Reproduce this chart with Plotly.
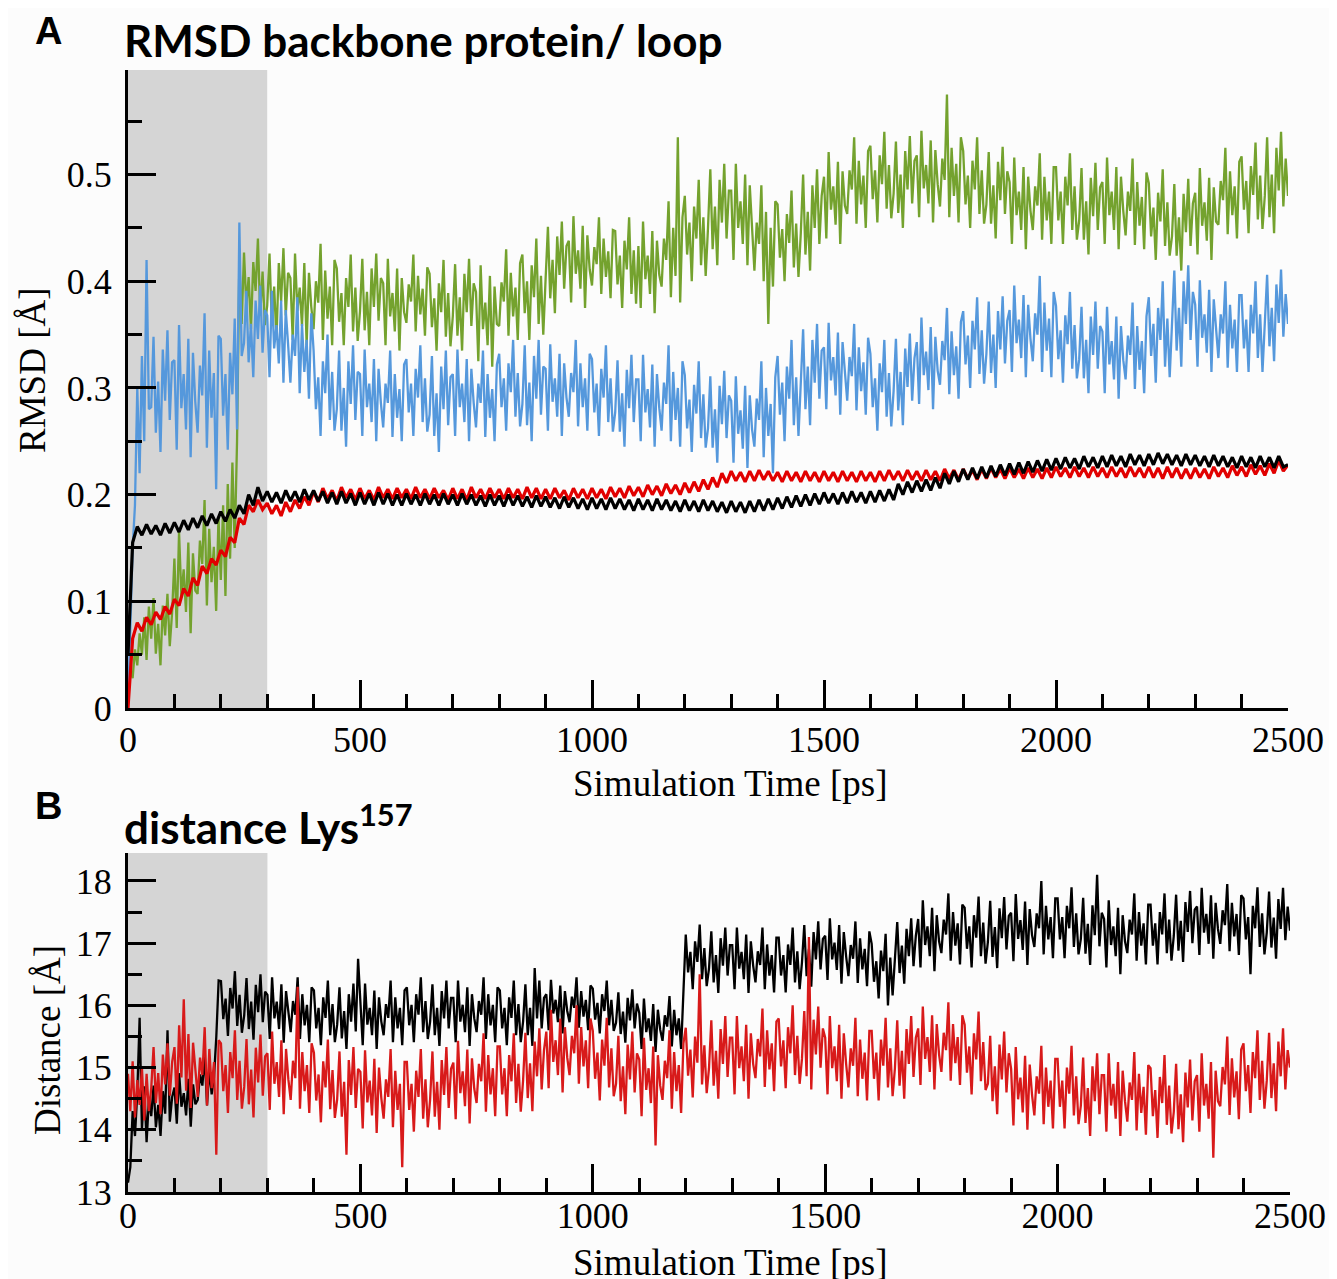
import plotly.graph_objects as go

# sample times (ps): noisy traces every 5 ps, smooth RMSD traces every 10 ps
time_5ps = list(range(0, 2501, 5))
time_10ps = list(range(0, 2501, 10))

# ---- panel A: RMSD backbone protein / loop [A] ----
rmsd_green = [
    0.020, 0.035, 0.028, 0.055, 0.040, 0.070, 0.050, 0.085, 0.045, 0.095,
    0.065, 0.103, 0.051, 0.079, 0.040, 0.096, 0.068, 0.107, 0.058, 0.089,
    0.140, 0.075, 0.165, 0.105, 0.130, 0.090, 0.155, 0.070, 0.145, 0.110,
    0.107, 0.157, 0.135, 0.195, 0.096, 0.168, 0.118, 0.151, 0.091, 0.179,
    0.120, 0.190, 0.105, 0.210, 0.140, 0.230, 0.150, 0.250, 0.420, 0.360,
    0.427, 0.377, 0.404, 0.355, 0.418, 0.391, 0.440, 0.368, 0.409, 0.359,
    0.377, 0.426, 0.359, 0.395, 0.345, 0.417, 0.381, 0.431, 0.368, 0.408,
    0.403, 0.345, 0.426, 0.372, 0.394, 0.358, 0.417, 0.340, 0.408, 0.376,
    0.355, 0.400, 0.380, 0.435, 0.345, 0.410, 0.365, 0.395, 0.340, 0.420,
    0.412, 0.362, 0.389, 0.340, 0.403, 0.376, 0.425, 0.353, 0.394, 0.344,
    0.372, 0.421, 0.354, 0.390, 0.340, 0.412, 0.376, 0.426, 0.363, 0.403,
    0.398, 0.340, 0.421, 0.367, 0.389, 0.353, 0.412, 0.335, 0.403, 0.371,
    0.361, 0.397, 0.381, 0.425, 0.353, 0.405, 0.369, 0.393, 0.349, 0.413,
    0.407, 0.357, 0.384, 0.335, 0.398, 0.371, 0.420, 0.348, 0.389, 0.339,
    0.367, 0.416, 0.349, 0.385, 0.335, 0.407, 0.371, 0.421, 0.358, 0.398,
    0.390, 0.325, 0.415, 0.355, 0.380, 0.340, 0.405, 0.320, 0.395, 0.360,
    0.358, 0.399, 0.381, 0.430, 0.349, 0.408, 0.367, 0.394, 0.345, 0.417,
    0.425, 0.370, 0.400, 0.345, 0.415, 0.385, 0.440, 0.360, 0.405, 0.350,
    0.402, 0.451, 0.384, 0.420, 0.370, 0.442, 0.406, 0.456, 0.393, 0.433,
    0.438, 0.380, 0.461, 0.407, 0.429, 0.393, 0.452, 0.375, 0.443, 0.411,
    0.396, 0.432, 0.416, 0.460, 0.388, 0.440, 0.404, 0.428, 0.384, 0.448,
    0.447, 0.397, 0.424, 0.375, 0.438, 0.411, 0.460, 0.388, 0.429, 0.379,
    0.433, 0.375, 0.456, 0.402, 0.424, 0.388, 0.447, 0.370, 0.438, 0.406,
    0.395, 0.440, 0.420, 0.475, 0.385, 0.450, 0.405, 0.535, 0.380, 0.460,
    0.480, 0.425, 0.455, 0.400, 0.470, 0.440, 0.495, 0.415, 0.460, 0.405,
    0.450, 0.505, 0.430, 0.470, 0.415, 0.495, 0.455, 0.510, 0.440, 0.485,
    0.485, 0.420, 0.510, 0.450, 0.475, 0.435, 0.500, 0.415, 0.490, 0.455,
    0.410, 0.455, 0.435, 0.490, 0.400, 0.465, 0.360, 0.450, 0.395, 0.475,
    0.472, 0.422, 0.449, 0.400, 0.463, 0.436, 0.485, 0.413, 0.454, 0.404,
    0.445, 0.500, 0.425, 0.465, 0.410, 0.490, 0.450, 0.505, 0.435, 0.480,
    0.498, 0.440, 0.521, 0.467, 0.489, 0.453, 0.512, 0.435, 0.503, 0.471,
    0.463, 0.504, 0.486, 0.535, 0.454, 0.513, 0.472, 0.499, 0.450, 0.522,
    0.527, 0.477, 0.504, 0.455, 0.518, 0.491, 0.540, 0.468, 0.509, 0.459,
    0.482, 0.531, 0.464, 0.500, 0.450, 0.522, 0.486, 0.536, 0.473, 0.513,
    0.518, 0.460, 0.541, 0.487, 0.509, 0.473, 0.532, 0.455, 0.523, 0.491,
    0.470, 0.515, 0.495, 0.575, 0.460, 0.525, 0.480, 0.510, 0.455, 0.535,
    0.522, 0.472, 0.499, 0.450, 0.513, 0.486, 0.535, 0.463, 0.504, 0.454,
    0.472, 0.521, 0.454, 0.490, 0.440, 0.512, 0.476, 0.526, 0.463, 0.503,
    0.493, 0.435, 0.516, 0.462, 0.484, 0.448, 0.507, 0.430, 0.498, 0.466,
    0.448, 0.489, 0.471, 0.520, 0.439, 0.498, 0.457, 0.484, 0.435, 0.507,
    0.507, 0.457, 0.484, 0.435, 0.498, 0.471, 0.520, 0.448, 0.489, 0.439,
    0.457, 0.506, 0.439, 0.475, 0.425, 0.497, 0.461, 0.511, 0.448, 0.488,
    0.493, 0.435, 0.516, 0.462, 0.484, 0.448, 0.507, 0.430, 0.498, 0.466,
    0.443, 0.484, 0.466, 0.515, 0.434, 0.493, 0.452, 0.479, 0.430, 0.502,
    0.492, 0.442, 0.469, 0.420, 0.483, 0.456, 0.505, 0.433, 0.474, 0.424,
    0.442, 0.491, 0.424, 0.460, 0.410, 0.482, 0.446, 0.496, 0.433, 0.473,
    0.483, 0.425, 0.506, 0.452, 0.474, 0.438, 0.497, 0.420, 0.488, 0.456,
    0.453, 0.494, 0.476, 0.525, 0.444, 0.503, 0.462, 0.489, 0.440, 0.512,
    0.517, 0.467, 0.494, 0.445, 0.508, 0.481, 0.530, 0.458, 0.499, 0.449,
    0.480, 0.535, 0.460, 0.500, 0.445, 0.525, 0.485, 0.540, 0.470, 0.515,
    0.480,
]

rmsd_blue = [
    0.000, 0.080, 0.150, 0.190, 0.300, 0.220, 0.330, 0.250, 0.420, 0.280,
    0.282, 0.348, 0.258, 0.306, 0.240, 0.336, 0.288, 0.354, 0.270, 0.324,
    0.326, 0.242, 0.359, 0.281, 0.313, 0.261, 0.346, 0.235, 0.333, 0.287,
    0.258, 0.321, 0.293, 0.370, 0.244, 0.335, 0.272, 0.314, 0.205, 0.349,
    0.346, 0.274, 0.313, 0.242, 0.333, 0.294, 0.365, 0.261, 0.455, 0.330,
    0.342, 0.391, 0.324, 0.360, 0.310, 0.382, 0.346, 0.396, 0.333, 0.373,
    0.368, 0.310, 0.391, 0.337, 0.359, 0.323, 0.382, 0.305, 0.373, 0.341,
    0.305, 0.350, 0.330, 0.385, 0.295, 0.360, 0.315, 0.345, 0.290, 0.370,
    0.335, 0.280, 0.310, 0.255, 0.325, 0.295, 0.350, 0.270, 0.315, 0.260,
    0.280, 0.335, 0.260, 0.300, 0.245, 0.325, 0.285, 0.340, 0.270, 0.315,
    0.313, 0.255, 0.336, 0.282, 0.304, 0.268, 0.327, 0.250, 0.318, 0.286,
    0.263, 0.304, 0.286, 0.335, 0.254, 0.313, 0.272, 0.299, 0.250, 0.322,
    0.327, 0.277, 0.304, 0.255, 0.318, 0.291, 0.340, 0.268, 0.309, 0.259,
    0.275, 0.330, 0.255, 0.295, 0.240, 0.320, 0.280, 0.335, 0.265, 0.310,
    0.313, 0.255, 0.336, 0.282, 0.304, 0.268, 0.327, 0.250, 0.318, 0.286,
    0.263, 0.304, 0.286, 0.335, 0.254, 0.313, 0.272, 0.299, 0.250, 0.322,
    0.332, 0.282, 0.309, 0.260, 0.323, 0.296, 0.345, 0.273, 0.314, 0.264,
    0.285, 0.340, 0.265, 0.305, 0.250, 0.330, 0.290, 0.345, 0.275, 0.320,
    0.318, 0.260, 0.341, 0.287, 0.309, 0.273, 0.332, 0.255, 0.323, 0.291,
    0.273, 0.314, 0.296, 0.345, 0.264, 0.323, 0.282, 0.309, 0.260, 0.332,
    0.327, 0.277, 0.304, 0.255, 0.318, 0.291, 0.340, 0.268, 0.309, 0.259,
    0.277, 0.326, 0.259, 0.295, 0.245, 0.317, 0.281, 0.331, 0.268, 0.308,
    0.308, 0.250, 0.331, 0.277, 0.299, 0.263, 0.322, 0.245, 0.313, 0.281,
    0.260, 0.305, 0.285, 0.340, 0.250, 0.315, 0.270, 0.300, 0.245, 0.325,
    0.312, 0.262, 0.289, 0.240, 0.303, 0.276, 0.325, 0.253, 0.294, 0.244,
    0.262, 0.311, 0.244, 0.280, 0.230, 0.302, 0.266, 0.316, 0.253, 0.293,
    0.288, 0.230, 0.311, 0.257, 0.279, 0.243, 0.302, 0.225, 0.293, 0.261,
    0.245, 0.290, 0.270, 0.325, 0.235, 0.300, 0.255, 0.285, 0.220, 0.310,
    0.330, 0.275, 0.305, 0.250, 0.320, 0.290, 0.345, 0.265, 0.310, 0.255,
    0.300, 0.355, 0.280, 0.320, 0.265, 0.345, 0.305, 0.360, 0.290, 0.335,
    0.338, 0.280, 0.361, 0.307, 0.329, 0.293, 0.352, 0.275, 0.343, 0.311,
    0.288, 0.329, 0.311, 0.360, 0.279, 0.338, 0.297, 0.324, 0.275, 0.347,
    0.332, 0.282, 0.309, 0.260, 0.323, 0.296, 0.345, 0.273, 0.314, 0.264,
    0.297, 0.346, 0.279, 0.315, 0.265, 0.337, 0.301, 0.351, 0.288, 0.328,
    0.343, 0.285, 0.366, 0.312, 0.334, 0.298, 0.357, 0.280, 0.348, 0.316,
    0.303, 0.344, 0.326, 0.375, 0.294, 0.353, 0.312, 0.339, 0.290, 0.362,
    0.372, 0.322, 0.349, 0.300, 0.363, 0.336, 0.385, 0.313, 0.354, 0.304,
    0.332, 0.381, 0.314, 0.350, 0.300, 0.372, 0.336, 0.386, 0.323, 0.363,
    0.373, 0.315, 0.396, 0.342, 0.364, 0.328, 0.387, 0.310, 0.378, 0.346,
    0.325, 0.370, 0.350, 0.405, 0.315, 0.380, 0.335, 0.365, 0.310, 0.390,
    0.377, 0.327, 0.354, 0.305, 0.368, 0.341, 0.390, 0.318, 0.359, 0.309,
    0.327, 0.376, 0.309, 0.345, 0.295, 0.367, 0.331, 0.381, 0.318, 0.358,
    0.353, 0.295, 0.376, 0.322, 0.344, 0.308, 0.367, 0.290, 0.358, 0.326,
    0.308, 0.349, 0.331, 0.380, 0.299, 0.358, 0.317, 0.344, 0.295, 0.367,
    0.385, 0.330, 0.360, 0.305, 0.375, 0.345, 0.400, 0.320, 0.365, 0.310,
    0.355, 0.410, 0.335, 0.375, 0.320, 0.400, 0.360, 0.415, 0.345, 0.390,
    0.378, 0.320, 0.401, 0.347, 0.369, 0.333, 0.392, 0.315, 0.383, 0.351,
    0.328, 0.369, 0.351, 0.400, 0.319, 0.378, 0.337, 0.364, 0.315, 0.387,
    0.387, 0.337, 0.364, 0.315, 0.378, 0.351, 0.400, 0.328, 0.369, 0.315,
    0.357, 0.406, 0.339, 0.375, 0.325, 0.397, 0.361, 0.411, 0.348, 0.388,
    0.360,
]

rmsd_red = [
    0.000, 0.065, 0.080, 0.072, 0.085, 0.078, 0.090, 0.083, 0.095, 0.088,
    0.102, 0.096, 0.112, 0.105, 0.122, 0.115, 0.133, 0.126, 0.140, 0.134,
    0.148, 0.142, 0.160, 0.155, 0.178, 0.172, 0.190, 0.184, 0.195, 0.186,
    0.192, 0.182, 0.190, 0.180, 0.193, 0.184, 0.195, 0.187, 0.198, 0.190,
    0.203, 0.193, 0.206, 0.196, 0.204, 0.194, 0.207, 0.197, 0.205, 0.195,
    0.206, 0.196, 0.204, 0.195, 0.207, 0.197, 0.205, 0.196, 0.206, 0.197,
    0.205, 0.196, 0.207, 0.197, 0.205, 0.196, 0.206, 0.197, 0.204, 0.195,
    0.206, 0.196, 0.205, 0.195, 0.207, 0.197, 0.205, 0.196, 0.206, 0.197,
    0.205, 0.196, 0.206, 0.197, 0.205, 0.196, 0.207, 0.197, 0.206, 0.196,
    0.205, 0.196, 0.206, 0.197, 0.204, 0.195, 0.206, 0.197, 0.205, 0.196,
    0.206, 0.197, 0.205, 0.196, 0.207, 0.198, 0.206, 0.197, 0.208, 0.199,
    0.207, 0.198, 0.209, 0.200, 0.208, 0.199, 0.210, 0.201, 0.209, 0.200,
    0.211, 0.202, 0.212, 0.203, 0.214, 0.205, 0.216, 0.207, 0.220, 0.211,
    0.222, 0.213, 0.221, 0.212, 0.222, 0.213, 0.223, 0.214, 0.222, 0.213,
    0.221, 0.212, 0.222, 0.213, 0.221, 0.212, 0.222, 0.213, 0.221, 0.212,
    0.222, 0.213, 0.221, 0.212, 0.222, 0.213, 0.221, 0.212, 0.222, 0.213,
    0.221, 0.212, 0.222, 0.213, 0.223, 0.214, 0.222, 0.213, 0.223, 0.214,
    0.222, 0.213, 0.223, 0.214, 0.222, 0.213, 0.224, 0.215, 0.223, 0.214,
    0.224, 0.215, 0.223, 0.214, 0.224, 0.215, 0.225, 0.216, 0.224, 0.215,
    0.225, 0.216, 0.224, 0.215, 0.225, 0.216, 0.224, 0.215, 0.225, 0.216,
    0.226, 0.217, 0.225, 0.216, 0.226, 0.217, 0.225, 0.216, 0.226, 0.217,
    0.225, 0.216, 0.226, 0.217, 0.225, 0.216, 0.226, 0.217, 0.225, 0.216,
    0.226, 0.216, 0.225, 0.215, 0.226, 0.216, 0.225, 0.215, 0.224, 0.215,
    0.225, 0.216, 0.224, 0.215, 0.226, 0.217, 0.225, 0.216, 0.227, 0.218,
    0.226, 0.217, 0.228, 0.219, 0.227, 0.218, 0.229, 0.220, 0.232, 0.222,
    0.228,
]

rmsd_black = [
    0.050, 0.155, 0.170, 0.162, 0.172, 0.163, 0.171, 0.162, 0.173, 0.164,
    0.174, 0.165, 0.176, 0.167, 0.178, 0.169, 0.180, 0.171, 0.182, 0.173,
    0.184, 0.175, 0.186, 0.178, 0.190, 0.182, 0.200, 0.190, 0.207, 0.194,
    0.203, 0.193, 0.202, 0.192, 0.204, 0.194, 0.203, 0.193, 0.205, 0.195,
    0.204, 0.194, 0.203, 0.192, 0.202, 0.191, 0.203, 0.192, 0.201, 0.190,
    0.202, 0.191, 0.201, 0.190, 0.202, 0.191, 0.201, 0.190, 0.200, 0.190,
    0.201, 0.191, 0.200, 0.190, 0.201, 0.191, 0.200, 0.190, 0.201, 0.191,
    0.200, 0.190, 0.201, 0.191, 0.200, 0.190, 0.199, 0.189, 0.200, 0.190,
    0.199, 0.189, 0.200, 0.190, 0.199, 0.189, 0.198, 0.188, 0.199, 0.189,
    0.198, 0.188, 0.197, 0.187, 0.198, 0.188, 0.197, 0.187, 0.196, 0.186,
    0.197, 0.187, 0.196, 0.186, 0.197, 0.187, 0.196, 0.186, 0.195, 0.185,
    0.196, 0.186, 0.195, 0.185, 0.196, 0.186, 0.195, 0.185, 0.194, 0.184,
    0.195, 0.185, 0.194, 0.184, 0.195, 0.185, 0.194, 0.184, 0.193, 0.183,
    0.194, 0.184, 0.193, 0.183, 0.194, 0.184, 0.195, 0.185, 0.196, 0.186,
    0.197, 0.187, 0.198, 0.188, 0.199, 0.189, 0.200, 0.190, 0.201, 0.191,
    0.202, 0.192, 0.201, 0.191, 0.202, 0.192, 0.203, 0.193, 0.202, 0.192,
    0.203, 0.193, 0.204, 0.194, 0.205, 0.195, 0.210, 0.200, 0.212, 0.202,
    0.213, 0.203, 0.214, 0.204, 0.216, 0.206, 0.220, 0.210, 0.222, 0.212,
    0.224, 0.214, 0.225, 0.215, 0.226, 0.216, 0.227, 0.217, 0.228, 0.218,
    0.229, 0.219, 0.230, 0.220, 0.231, 0.221, 0.232, 0.222, 0.233, 0.223,
    0.234, 0.224, 0.235, 0.225, 0.234, 0.224, 0.236, 0.226, 0.235, 0.225,
    0.236, 0.226, 0.237, 0.227, 0.236, 0.226, 0.238, 0.228, 0.237, 0.227,
    0.238, 0.228, 0.239, 0.229, 0.238, 0.228, 0.237, 0.227, 0.238, 0.228,
    0.237, 0.227, 0.236, 0.226, 0.237, 0.227, 0.236, 0.226, 0.235, 0.225,
    0.236, 0.226, 0.235, 0.225, 0.236, 0.226, 0.235, 0.225, 0.236, 0.226,
    0.228,
]

# ---- panel B: distance Lys157 [A] ----
dist_black = [
    13.15, 13.40, 14.30, 13.90, 14.60, 15.80, 14.00, 14.70, 13.80, 14.50,
    14.22, 14.71, 14.04, 14.40, 13.90, 14.62, 14.26, 15.60, 14.13, 14.53,
    14.68, 14.10, 14.91, 14.37, 14.59, 14.23, 14.82, 14.05, 14.73, 14.41,
    14.48, 14.89, 14.71, 15.20, 14.39, 14.98, 14.57, 14.84, 15.50, 16.40,
    16.39, 15.78, 16.11, 15.51, 16.28, 15.95, 16.55, 15.67, 16.17, 15.56,
    15.84, 16.44, 15.62, 16.06, 15.45, 16.33, 15.89, 16.50, 15.73, 16.22,
    16.17, 15.46, 16.45, 15.79, 16.06, 15.62, 16.34, 15.40, 16.23, 15.84,
    15.57, 16.07, 15.85, 16.45, 15.46, 16.18, 15.68, 16.01, 15.41, 16.29,
    16.24, 15.63, 15.96, 15.36, 16.13, 15.80, 16.40, 15.52, 16.02, 15.41,
    15.69, 16.29, 15.47, 15.91, 15.30, 16.18, 15.74, 16.35, 15.58, 16.75,
    16.07, 15.36, 16.35, 15.69, 15.96, 15.52, 16.24, 15.30, 16.13, 15.74,
    15.52, 16.02, 15.80, 16.40, 15.41, 16.13, 15.63, 15.96, 15.36, 16.24,
    16.29, 15.68, 16.01, 15.41, 16.18, 15.85, 16.45, 15.57, 16.07, 15.46,
    15.74, 16.34, 15.52, 15.96, 15.35, 16.23, 15.79, 16.40, 15.63, 16.12,
    16.12, 15.41, 16.40, 15.74, 16.01, 15.57, 16.29, 15.35, 16.18, 15.79,
    15.57, 16.07, 15.85, 16.45, 15.46, 16.18, 15.68, 16.01, 15.41, 16.29,
    16.24, 15.63, 15.96, 15.36, 16.13, 15.80, 16.40, 15.52, 16.02, 15.41,
    15.74, 16.34, 15.52, 15.96, 15.35, 16.60, 15.79, 16.40, 15.63, 16.12,
    16.18, 15.60, 16.41, 15.87, 16.09, 15.73, 16.32, 15.55, 16.23, 15.91,
    15.73, 16.14, 15.96, 16.45, 15.64, 16.23, 15.82, 16.09, 15.60, 16.32,
    16.27, 15.77, 16.04, 15.55, 16.18, 15.91, 16.40, 15.68, 16.09, 15.59,
    15.72, 16.21, 15.54, 15.90, 15.40, 16.12, 15.76, 16.26, 15.63, 16.03,
    15.88, 15.30, 16.11, 15.57, 15.79, 15.43, 16.02, 15.25, 15.93, 15.61,
    15.43, 15.84, 15.66, 16.15, 15.34, 15.93, 15.52, 15.79, 15.30, 16.10,
    17.14, 16.53, 16.86, 16.26, 17.03, 16.70, 17.30, 16.42, 16.92, 16.31,
    16.59, 17.19, 16.37, 16.81, 16.20, 17.08, 16.64, 17.25, 16.48, 16.97,
    16.97, 16.26, 17.25, 16.59, 16.86, 16.42, 17.14, 16.20, 17.03, 16.64,
    16.37, 16.87, 16.65, 17.25, 16.26, 16.98, 16.48, 16.81, 16.21, 17.09,
    17.09, 16.48, 16.81, 16.21, 16.98, 16.65, 17.25, 16.37, 16.87, 16.26,
    16.69, 17.29, 16.47, 16.91, 16.30, 17.18, 16.74, 17.35, 16.58, 17.07,
    17.12, 16.41, 17.40, 16.74, 17.01, 16.57, 17.29, 16.35, 17.18, 16.79,
    16.47, 16.97, 16.75, 17.35, 16.36, 17.08, 16.58, 16.91, 16.31, 17.19,
    16.99, 16.38, 16.71, 16.11, 16.88, 16.55, 17.15, 16.00, 16.77, 16.16,
    16.74, 17.34, 16.52, 16.96, 16.35, 17.23, 16.79, 17.40, 16.63, 17.12,
    17.39, 16.61, 17.69, 16.97, 17.27, 16.79, 17.57, 16.55, 17.45, 17.03,
    16.84, 17.38, 17.14, 17.80, 16.72, 17.50, 16.96, 17.32, 16.66, 17.62,
    17.57, 16.91, 17.27, 16.61, 17.45, 17.09, 17.75, 16.79, 17.33, 16.67,
    17.02, 17.68, 16.78, 17.26, 16.60, 17.56, 17.08, 17.74, 16.90, 17.44,
    17.49, 16.71, 17.79, 17.07, 17.37, 16.89, 17.67, 16.65, 17.55, 17.13,
    16.94, 17.48, 17.24, 18.00, 16.82, 17.60, 17.06, 17.42, 16.76, 17.72,
    17.72, 17.06, 17.42, 16.76, 17.60, 17.24, 17.90, 16.94, 17.48, 16.82,
    17.07, 17.73, 16.83, 17.31, 16.65, 17.61, 17.13, 18.10, 16.95, 17.49,
    17.39, 16.61, 17.69, 16.97, 17.27, 16.79, 17.57, 16.50, 17.45, 17.03,
    16.84, 17.38, 17.14, 17.80, 16.72, 17.50, 16.96, 17.32, 16.66, 17.62,
    17.62, 16.96, 17.32, 16.66, 17.50, 17.14, 17.80, 16.84, 17.38, 16.72,
    17.12, 17.78, 16.88, 17.36, 16.70, 17.66, 17.18, 17.84, 17.00, 17.54,
    17.59, 16.81, 17.89, 17.17, 17.47, 16.99, 17.77, 16.75, 17.65, 17.23,
    16.99, 17.53, 17.29, 17.95, 16.87, 17.65, 17.11, 17.47, 16.81, 17.77,
    17.72, 17.06, 17.42, 16.50, 17.60, 17.24, 17.90, 16.94, 17.48, 16.82,
    17.17, 17.83, 16.93, 17.41, 16.75, 17.71, 17.23, 17.89, 17.05, 17.59,
    17.20,
]

dist_red = [
    14.90, 14.30, 15.10, 14.20, 14.80, 14.40, 15.00, 14.15, 14.90, 14.30,
    14.67, 15.33, 14.43, 14.91, 14.25, 15.21, 14.73, 15.39, 14.55, 15.09,
    15.33, 14.42, 15.68, 14.84, 16.10, 14.63, 15.54, 14.35, 15.40, 14.91,
    14.53, 15.16, 14.88, 15.65, 14.39, 15.30, 14.67, 15.09, 13.60, 15.44,
    15.39, 14.62, 15.04, 14.27, 15.25, 14.83, 15.60, 14.48, 15.11, 14.34,
    14.69, 15.46, 14.41, 14.97, 14.20, 15.32, 14.76, 15.53, 14.55, 15.18,
    15.23, 14.32, 15.58, 14.74, 15.09, 14.53, 15.44, 14.25, 15.30, 14.81,
    14.48, 15.11, 14.83, 16.30, 14.34, 15.25, 14.62, 15.04, 14.27, 15.39,
    15.24, 14.47, 14.89, 14.12, 15.10, 14.68, 15.45, 14.33, 14.96, 14.19,
    14.49, 15.26, 14.21, 14.77, 13.60, 15.12, 14.56, 15.33, 14.35, 14.98,
    14.93, 14.02, 15.28, 14.44, 14.79, 14.23, 15.14, 13.95, 15.00, 14.51,
    14.18, 14.81, 14.53, 15.30, 14.04, 14.95, 14.32, 14.74, 13.40, 15.09,
    15.09, 14.32, 14.74, 13.97, 14.95, 14.53, 15.30, 14.18, 14.81, 14.04,
    14.49, 15.26, 14.21, 14.77, 14.00, 15.12, 14.56, 15.33, 14.35, 14.98,
    15.08, 14.17, 15.43, 14.59, 14.94, 14.38, 15.29, 14.10, 15.15, 14.66,
    14.43, 15.06, 14.78, 15.55, 14.29, 15.20, 14.57, 14.99, 14.22, 15.34,
    15.34, 14.57, 14.99, 14.22, 15.20, 14.78, 15.55, 14.43, 15.06, 14.29,
    14.79, 15.56, 14.51, 15.07, 14.30, 15.42, 14.86, 15.63, 14.65, 15.28,
    15.58, 14.67, 15.93, 15.09, 15.44, 14.88, 15.79, 14.60, 15.65, 15.16,
    14.88, 15.51, 15.23, 16.00, 14.74, 15.65, 15.02, 15.44, 14.67, 15.79,
    15.59, 14.82, 15.24, 14.47, 15.45, 15.03, 15.80, 14.68, 15.31, 14.54,
    14.74, 15.51, 14.46, 15.02, 14.25, 15.37, 14.81, 15.58, 14.60, 15.23,
    15.13, 14.22, 15.48, 14.64, 14.99, 14.43, 15.34, 13.75, 15.20, 14.71,
    14.48, 15.11, 14.83, 15.60, 14.34, 15.25, 14.62, 15.04, 14.27, 15.39,
    15.64, 14.87, 15.29, 14.52, 15.50, 15.08, 16.50, 14.73, 15.36, 14.59,
    14.99, 15.76, 14.71, 15.27, 14.50, 15.62, 15.06, 15.83, 14.85, 15.48,
    15.48, 14.57, 15.83, 14.99, 15.34, 14.78, 15.69, 14.50, 15.55, 15.06,
    14.83, 15.46, 15.18, 15.95, 14.69, 15.60, 14.97, 15.39, 14.62, 15.74,
    15.79, 15.02, 15.44, 14.67, 15.65, 15.23, 16.00, 14.88, 15.51, 14.74,
    15.14, 15.91, 14.86, 17.10, 14.65, 15.77, 15.21, 15.98, 15.00, 15.63,
    15.48, 14.57, 15.83, 14.99, 15.34, 14.78, 15.69, 14.50, 15.55, 15.06,
    14.68, 15.31, 15.03, 15.80, 14.54, 15.45, 14.82, 15.24, 14.47, 15.59,
    15.59, 14.82, 15.24, 14.47, 15.45, 15.03, 15.80, 14.68, 15.31, 14.54,
    14.99, 15.76, 14.71, 15.27, 14.50, 15.62, 15.06, 15.83, 14.85, 15.48,
    15.63, 14.72, 15.98, 15.14, 15.49, 14.93, 15.84, 14.65, 15.70, 15.21,
    14.93, 15.56, 15.28, 16.05, 14.79, 15.70, 15.07, 15.49, 14.72, 15.84,
    15.69, 14.92, 15.34, 14.57, 15.55, 15.13, 15.90, 14.78, 15.41, 14.64,
    14.74, 15.51, 14.46, 15.02, 14.25, 15.37, 14.81, 15.58, 14.60, 15.23,
    14.98, 14.07, 15.33, 14.49, 14.84, 14.28, 15.19, 14.00, 15.05, 14.56,
    14.23, 14.86, 14.58, 15.35, 14.09, 15.00, 14.37, 14.79, 14.02, 15.14,
    15.14, 14.37, 14.79, 14.02, 15.00, 14.58, 15.35, 14.23, 14.86, 14.09,
    14.39, 15.16, 14.11, 14.67, 13.90, 15.02, 14.46, 15.23, 14.25, 14.88,
    14.88, 13.97, 15.23, 14.39, 14.74, 14.18, 15.09, 13.90, 14.95, 14.46,
    14.13, 14.76, 14.48, 15.25, 13.99, 14.90, 14.27, 14.69, 13.92, 15.04,
    14.99, 14.22, 14.64, 13.87, 14.85, 14.43, 15.20, 14.08, 14.71, 13.94,
    14.29, 15.06, 14.01, 14.57, 13.80, 14.92, 14.36, 15.13, 14.15, 14.78,
    14.88, 13.97, 15.23, 14.39, 14.74, 14.18, 15.09, 13.55, 14.95, 14.46,
    14.38, 15.01, 14.73, 15.50, 14.24, 15.15, 14.52, 14.94, 14.17, 15.29,
    15.39, 14.62, 15.04, 14.27, 15.25, 14.83, 15.60, 14.48, 15.11, 14.34,
    14.79, 15.56, 14.51, 15.07, 14.30, 15.42, 14.86, 15.63, 14.65, 15.28,
    15.00,
]

x_ticks = [0, 500, 1000, 1500, 2000, 2500]
rmsd_ticks = [0, 0.1, 0.2, 0.3, 0.4, 0.5]
rmsd_tick_text = ["0", "0.1", "0.2", "0.3", "0.4", "0.5"]
dist_ticks = [13, 14, 15, 16, 17, 18]
equil_end_ps = 300

# the page body has an 8 px margin, so the figure is drawn 8 px smaller
OFF = 8
W, H = 1337 - OFF, 1279 - OFF
serif = "Liberation Serif"


def px_x(p):
    return (p - OFF) / W


def px_y(p):
    return 1 - (p - OFF) / H


fig = go.Figure()

series_a = [
    (time_5ps, rmsd_green, "#74A22E", 2.3),
    (time_5ps, rmsd_blue, "#5598DC", 2.3),
    (time_10ps, rmsd_red, "#E10000", 3.2),
    (time_10ps, rmsd_black, "#000000", 3.2),
]
for xs, ys, col, lw in series_a:
    fig.add_trace(go.Scatter(x=xs, y=ys, mode="lines",
                             line=dict(color=col, width=lw),
                             xaxis="x", yaxis="y", showlegend=False))

series_b = [
    (dist_black, "#000000"),
    (dist_red, "#D81A1A"),
]
for ys, col in series_b:
    fig.add_trace(go.Scatter(x=time_5ps, y=ys, mode="lines",
                             line=dict(color=col, width=2.3),
                             xaxis="x2", yaxis="y2", showlegend=False))

axis_common = dict(
    showline=True, linecolor="black", linewidth=3,
    ticks="inside", tickcolor="black", tickwidth=2.5,
    showgrid=False, zeroline=False, automargin=False,
    tickfont=dict(family=serif, size=36, color="black"),
)

fig.update_layout(
    width=W, height=H,
    margin=dict(l=0, r=0, t=0, b=0, pad=0),
    paper_bgcolor="#FCFCFC", plot_bgcolor="#FCFCFC",
    xaxis=dict(domain=[px_x(128), px_x(1288)], range=[0, 2500], anchor="y",
               tickvals=x_ticks, ticklen=28, ticklabelstandoff=-2,
               minor=dict(ticks="inside", ticklen=14, dtick=100, tick0=0,
                          tickcolor="black", tickwidth=2.5),
               **axis_common),
    yaxis=dict(domain=[px_y(708), px_y(70)], range=[0, 0.598], anchor="x",
               tickvals=rmsd_ticks, ticktext=rmsd_tick_text, ticklen=28,
               ticklabelstandoff=6,
               minor=dict(ticks="inside", ticklen=14, dtick=0.05, tick0=0,
                          tickcolor="black", tickwidth=2.5),
               **axis_common),
    xaxis2=dict(domain=[px_x(128), px_x(1290)], range=[0, 2500], anchor="y2",
                tickvals=x_ticks, ticklen=28, ticklabelstandoff=-10,
                minor=dict(ticks="inside", ticklen=14, dtick=100, tick0=0,
                           tickcolor="black", tickwidth=2.5),
                **axis_common),
    yaxis2=dict(domain=[px_y(1192), px_y(853)], range=[13, 18.45], anchor="x2",
                tickvals=dist_ticks, ticklen=28, ticklabelstandoff=6,
                minor=dict(ticks="inside", ticklen=14, dtick=0.5, tick0=13,
                           tickcolor="black", tickwidth=2.5),
                **axis_common),
)

# equilibration region shading
for xr, yr in (("x", "y domain"), ("x2", "y2 domain")):
    fig.add_shape(type="rect", xref=xr, yref=yr, x0=0, x1=equil_end_ps,
                  y0=0, y1=1, fillcolor="#D5D5D5", line=dict(width=0),
                  layer="below")

annots = [
    dict(text="<b>A</b>", x=px_x(33), y=px_y(8), xanchor="left", yanchor="top",
         font=dict(family="Liberation Sans", size=38, color="black")),
    dict(text="<b>RMSD backbone protein/ loop</b>", x=px_x(122), y=px_y(12),
         xanchor="left", yanchor="top",
         font=dict(family="Lato", size=44, color="black")),
    dict(text="<b>B</b>", x=px_x(33), y=px_y(783), xanchor="left", yanchor="top",
         font=dict(family="Liberation Sans", size=38, color="black")),
    dict(text="<b>distance Lys<sup>157</sup></b>", x=px_x(122), y=px_y(794),
         xanchor="left", yanchor="top",
         font=dict(family="Lato", size=44, color="black")),
    dict(text="RMSD [Å]", x=px_x(33), y=px_y(370), textangle=-90,
         xanchor="center", yanchor="middle",
         font=dict(family=serif, size=37, color="black")),
    dict(text="Distance [Å]", x=px_x(47), y=px_y(1040), textangle=-90,
         xanchor="center", yanchor="middle",
         font=dict(family=serif, size=37, color="black")),
    dict(text="Simulation Time [ps]", x=px_x(730), y=px_y(783),
         xanchor="center", yanchor="middle",
         font=dict(family=serif, size=37, color="black")),
    dict(text="Simulation Time [ps]", x=px_x(730), y=px_y(1262),
         xanchor="center", yanchor="middle",
         font=dict(family=serif, size=37, color="black")),
]
for a in annots:
    fig.add_annotation(xref="paper", yref="paper", showarrow=False, **a)

fig.write_html("out.html")
